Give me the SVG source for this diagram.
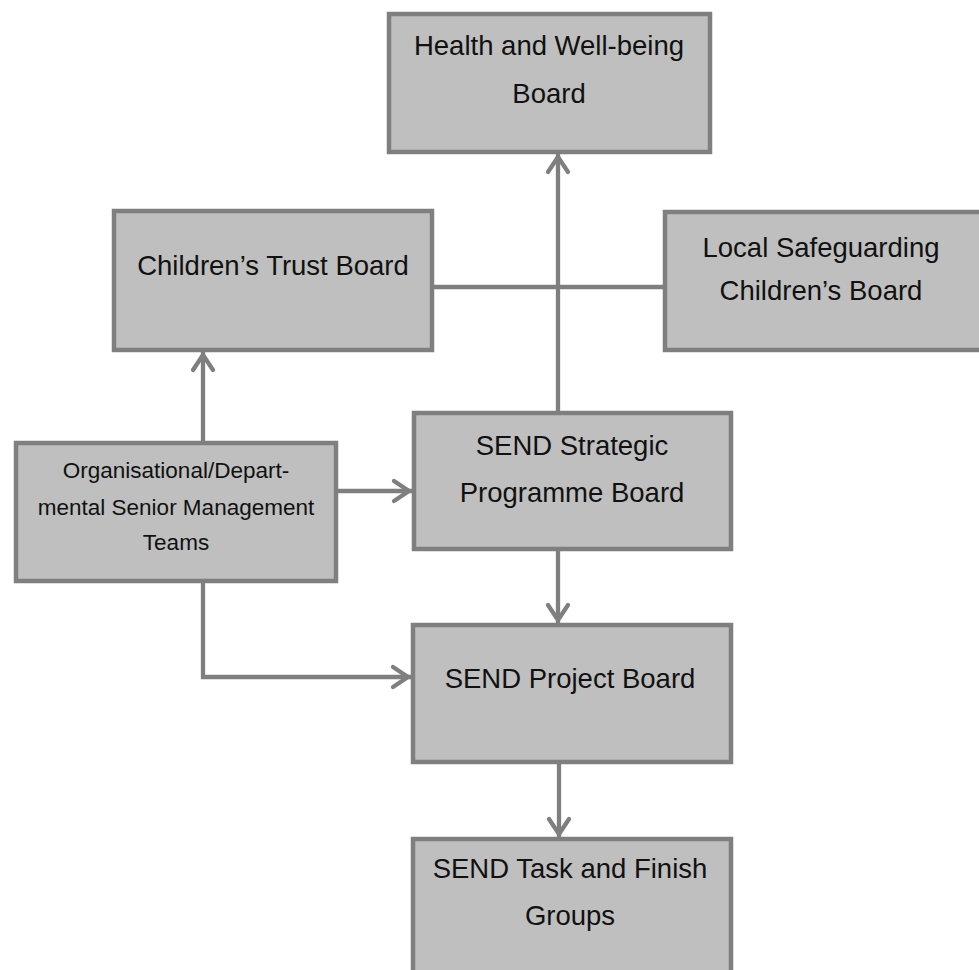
<svg xmlns="http://www.w3.org/2000/svg" width="979" height="970" viewBox="0 0 979 970">
  <style>
    .box { fill: #bfbfbf; stroke: #7f7f7f; stroke-width: 4.5; }
    .t { font-family: "Liberation Sans", Arial, sans-serif; font-size: 27.5px; fill: #111; text-anchor: middle; }
    .ts { font-family: "Liberation Sans", Arial, sans-serif; font-size: 22.5px; fill: #111; text-anchor: middle; }
    .c { fill: none; stroke: #7f7f7f; stroke-width: 4.3; }
  </style>
  <defs>
    <marker id="arr" markerUnits="userSpaceOnUse" markerWidth="30" markerHeight="30" viewBox="-22 -15 30 30" refX="0" refY="0" orient="auto">
      <path d="M-18,-10 L-3,0 L-18,10" fill="none" stroke="#7f7f7f" stroke-width="4.3" stroke-linecap="round" stroke-linejoin="miter"/>
    </marker>
  </defs>
  <rect width="979" height="970" fill="#ffffff"/>

  <g id="connectors">
    <path class="c" d="M558,411 L558,154" marker-end="url(#arr)"/>
    <path class="c" d="M434,287 L663,287"/>
    <path class="c" d="M203,441 L203,352" marker-end="url(#arr)"/>
    <path class="c" d="M338,491 L412,491" marker-end="url(#arr)"/>
    <path class="c" d="M558,551 L558,623" marker-end="url(#arr)"/>
    <path class="c" d="M203,583 L203,677 L411,677" marker-end="url(#arr)"/>
    <path class="c" d="M559,764 L559,837" marker-end="url(#arr)"/>
  </g>

  <g id="health">
    <rect class="box" x="389" y="14" width="321" height="138"/>
    <text class="t" x="549" y="55">Health and Well-being</text>
    <text class="t" x="549" y="103">Board</text>
  </g>

  <g id="childrens-trust">
    <rect class="box" x="114" y="211" width="318" height="139"/>
    <text class="t" x="273" y="275">Children’s Trust Board</text>
  </g>

  <g id="local-safeguarding">
    <rect class="box" x="665" y="212" width="330" height="138"/>
    <text class="t" x="821" y="257">Local Safeguarding</text>
    <text class="t" x="821" y="300">Children’s Board</text>
  </g>

  <g id="org-smt">
    <rect class="box" x="16" y="443" width="320" height="138"/>
    <text class="ts" x="176" y="478">Organisational/Depart-</text>
    <text class="ts" x="176" y="515">mental Senior Management</text>
    <text class="ts" x="176" y="550">Teams</text>
  </g>

  <g id="send-strategic">
    <rect class="box" x="414" y="413" width="317" height="136"/>
    <text class="t" x="572" y="455">SEND Strategic</text>
    <text class="t" x="572" y="502">Programme Board</text>
  </g>

  <g id="send-project">
    <rect class="box" x="413" y="625" width="318" height="137"/>
    <text class="t" x="570" y="688">SEND Project Board</text>
  </g>

  <g id="send-task">
    <rect class="box" x="413" y="839" width="318" height="150"/>
    <text class="t" x="570" y="878">SEND Task and Finish</text>
    <text class="t" x="570" y="925">Groups</text>
  </g>
</svg>
